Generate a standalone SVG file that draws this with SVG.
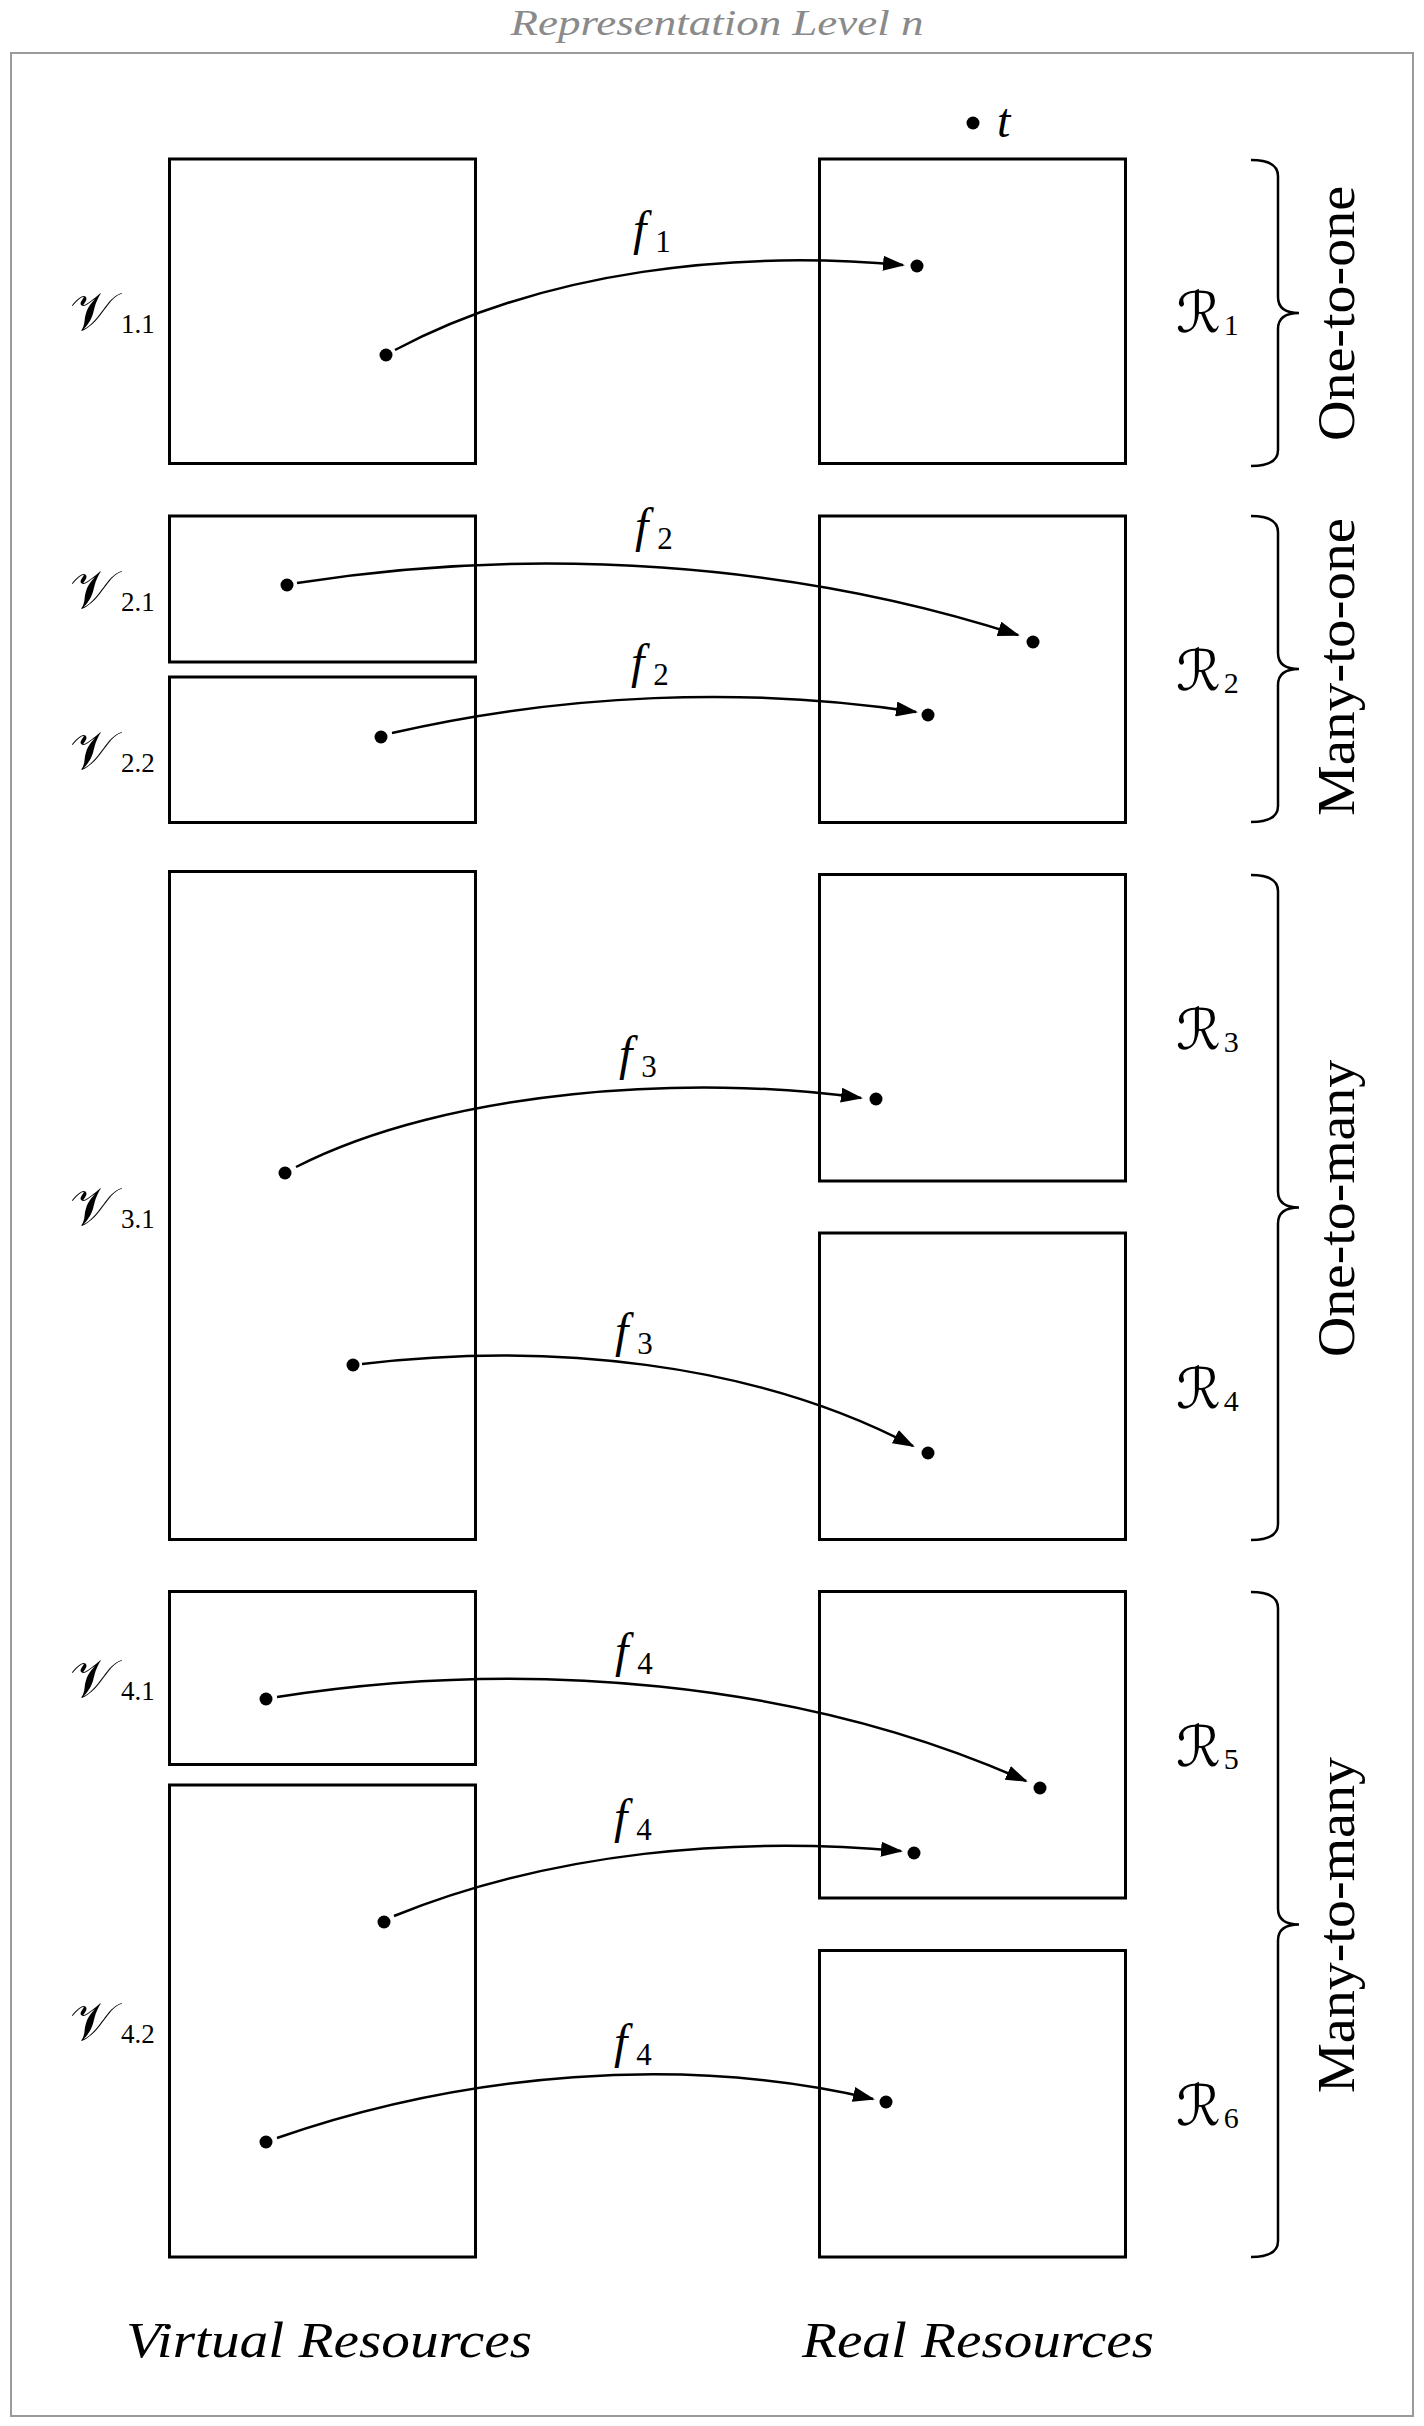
<svg xmlns="http://www.w3.org/2000/svg" width="1424" height="2426" viewBox="0 0 1424 2426">
<defs>
<marker id="arr" viewBox="0 0 22 15" refX="20" refY="7.5" markerWidth="22" markerHeight="15" markerUnits="userSpaceOnUse" orient="auto">
<path d="M0,0 L22,7.5 L0,15 Z" fill="#000"/>
</marker>
</defs>
<style>
.frame{fill:#fff;stroke:#9a9a9a;stroke-width:2}
.box{fill:none;stroke:#000;stroke-width:3}
.conn{fill:none;stroke:#000;stroke-width:2.5;marker-end:url(#arr)}
.dot{fill:#000}
.brace{fill:none;stroke:#000;stroke-width:2.5;stroke-linejoin:miter}
.title{font-family:"Liberation Serif",serif;font-style:italic;font-size:35px;fill:#8a8a8a}
.foot{font-family:"Liberation Serif",serif;font-style:italic;font-size:50px;fill:#000}
.cat{font-family:"Liberation Serif",serif;font-size:52px;fill:#000}
.calv{font-family:"DejaVu Serif","DejaVu Sans",serif;font-size:54px;fill:#000}
.calr{font-family:"DejaVu Serif","DejaVu Sans",serif;font-size:56px;fill:#000}
.vsub{font-family:"Liberation Serif",serif;font-size:27px;font-style:normal}
.rsub{font-family:"Liberation Serif",serif;font-size:30px;font-style:normal}
.fl{font-family:"Liberation Serif",serif;font-style:italic;font-size:48px;fill:#000}
.fsub{font-family:"Liberation Serif",serif;font-size:31px;font-style:normal}
</style>
<rect class="frame" x="11" y="53" width="1402" height="2363"/>
<text class="title" x="717" y="35" text-anchor="middle" textLength="413" lengthAdjust="spacingAndGlyphs">Representation Level n</text>

<g id="t-point">
<circle class="dot" cx="973" cy="123" r="6.5"/>
<text class="fl" x="997" y="137" font-size="42">t</text>
</g>

<g id="V1.1">
<rect class="box" x="169.5" y="159" width="306" height="304.5"/>
<circle class="dot" cx="386" cy="355" r="6.5"/>
<text class="calv" x="70" y="330">𝒱<tspan class="vsub" dx="6" dy="3">1.1</tspan></text>
</g>
<g id="R1">
<rect class="box" x="819.5" y="159" width="306" height="304.5"/>
<circle class="dot" cx="917" cy="266" r="6.5"/>
<text class="calr" x="1176" y="332">ℛ<tspan class="rsub" dx="3" dy="3">1</tspan></text>
</g>

<g id="V2.1">
<rect class="box" x="169.5" y="516" width="306" height="146"/>
<circle class="dot" cx="287" cy="585" r="6.5"/>
<text class="calv" x="70" y="607.5">𝒱<tspan class="vsub" dx="6" dy="3">2.1</tspan></text>
</g>
<g id="V2.2">
<rect class="box" x="169.5" y="677" width="306" height="145.5"/>
<circle class="dot" cx="381" cy="737" r="6.5"/>
<text class="calv" x="70" y="769">𝒱<tspan class="vsub" dx="6" dy="3">2.2</tspan></text>
</g>
<g id="R2">
<rect class="box" x="819.5" y="516" width="306" height="306.5"/>
<circle class="dot" cx="1033" cy="642" r="6.5"/>
<circle class="dot" cx="928" cy="715" r="6.5"/>
<text class="calr" x="1176" y="690">ℛ<tspan class="rsub" dx="3" dy="3">2</tspan></text>
</g>

<g id="V3.1">
<rect class="box" x="169.5" y="871.5" width="306" height="668"/>
<circle class="dot" cx="285" cy="1173" r="6.5"/>
<circle class="dot" cx="353" cy="1365" r="6.5"/>
<text class="calv" x="70" y="1224.5">𝒱<tspan class="vsub" dx="6" dy="3">3.1</tspan></text>
</g>
<g id="R3">
<rect class="box" x="819.5" y="874.5" width="306" height="306.5"/>
<circle class="dot" cx="876" cy="1099" r="6.5"/>
<text class="calr" x="1176" y="1048.5">ℛ<tspan class="rsub" dx="3" dy="3">3</tspan></text>
</g>
<g id="R4">
<rect class="box" x="819.5" y="1233" width="306" height="306.5"/>
<circle class="dot" cx="928" cy="1453" r="6.5"/>
<text class="calr" x="1176" y="1407.5">ℛ<tspan class="rsub" dx="3" dy="3">4</tspan></text>
</g>

<g id="V4.1">
<rect class="box" x="169.5" y="1591.5" width="306" height="173"/>
<circle class="dot" cx="266" cy="1699" r="6.5"/>
<text class="calv" x="70" y="1697">𝒱<tspan class="vsub" dx="6" dy="3">4.1</tspan></text>
</g>
<g id="V4.2">
<rect class="box" x="169.5" y="1785" width="306" height="472"/>
<circle class="dot" cx="384" cy="1922" r="6.5"/>
<circle class="dot" cx="266" cy="2142" r="6.5"/>
<text class="calv" x="70" y="2040">𝒱<tspan class="vsub" dx="6" dy="3">4.2</tspan></text>
</g>
<g id="R5">
<rect class="box" x="819.5" y="1591.5" width="306" height="306.5"/>
<circle class="dot" cx="1040" cy="1788" r="6.5"/>
<circle class="dot" cx="914" cy="1853" r="6.5"/>
<text class="calr" x="1176" y="1765.5">ℛ<tspan class="rsub" dx="3" dy="3">5</tspan></text>
</g>
<g id="R6">
<rect class="box" x="819.5" y="1950.5" width="306" height="306.5"/>
<circle class="dot" cx="886" cy="2102" r="6.5"/>
<text class="calr" x="1176" y="2124.5">ℛ<tspan class="rsub" dx="3" dy="3">6</tspan></text>
</g>

<g id="connectors">
<path class="conn" d="M395,350 C546,270 735,250 903,265"/>
<path class="conn" d="M297,583 C534,545.5 792,562 1018,635"/>
<path class="conn" d="M392,733 C562,694 746,686 916,712"/>
<path class="conn" d="M296,1167 C448,1089 694,1074 861,1098"/>
<path class="conn" d="M362,1364 C545,1342 752,1361 913,1446"/>
<path class="conn" d="M277,1697 C524,1658 800,1680 1026,1781"/>
<path class="conn" d="M394,1916 C552,1852 734,1836 901,1851"/>
<path class="conn" d="M277,2138 C464,2073 682,2054 873,2099"/>
<text class="fl" x="633" y="245">f<tspan class="fsub" dx="9" dy="7">1</tspan></text>
<text class="fl" x="635" y="542">f<tspan class="fsub" dx="9" dy="7">2</tspan></text>
<text class="fl" x="631" y="678">f<tspan class="fsub" dx="9" dy="7">2</tspan></text>
<text class="fl" x="619" y="1070">f<tspan class="fsub" dx="9" dy="7">3</tspan></text>
<text class="fl" x="615" y="1347">f<tspan class="fsub" dx="9" dy="7">3</tspan></text>
<text class="fl" x="615" y="1667">f<tspan class="fsub" dx="9" dy="7">4</tspan></text>
<text class="fl" x="614" y="1833">f<tspan class="fsub" dx="9" dy="7">4</tspan></text>
<text class="fl" x="614" y="2058">f<tspan class="fsub" dx="9" dy="7">4</tspan></text>
</g>

<g id="brace-one-to-one">
<path class="brace" d="M1251,160 Q1278,160 1278,176 L1278,297 Q1278,313 1299,313 Q1278,313 1278,329 L1278,450 Q1278,466 1251,466"/>
<text class="cat" transform="translate(1354,313.5) rotate(-90)" text-anchor="middle" textLength="255" lengthAdjust="spacingAndGlyphs">One-to-one</text>
</g>
<g id="brace-many-to-one">
<path class="brace" d="M1251,516 Q1278,516 1278,532 L1278,653 Q1278,669 1299,669 Q1278,669 1278,685 L1278,806 Q1278,822 1251,822"/>
<text class="cat" transform="translate(1354,667) rotate(-90)" text-anchor="middle" textLength="298" lengthAdjust="spacingAndGlyphs">Many-to-one</text>
</g>
<g id="brace-one-to-many">
<path class="brace" d="M1251,875 Q1278,875 1278,891 L1278,1191.5 Q1278,1207.5 1299,1207.5 Q1278,1207.5 1278,1223.5 L1278,1524 Q1278,1540 1251,1540"/>
<text class="cat" transform="translate(1354,1208.5) rotate(-90)" text-anchor="middle" textLength="297" lengthAdjust="spacingAndGlyphs">One-to-many</text>
</g>
<g id="brace-many-to-many">
<path class="brace" d="M1251,1592 Q1278,1592 1278,1608 L1278,1908.5 Q1278,1924.5 1299,1924.5 Q1278,1924.5 1278,1940.5 L1278,2241 Q1278,2257 1251,2257"/>
<text class="cat" transform="translate(1354,1925) rotate(-90)" text-anchor="middle" textLength="336" lengthAdjust="spacingAndGlyphs">Many-to-many</text>
</g>

<text class="foot" x="126" y="2357" textLength="406" lengthAdjust="spacingAndGlyphs">Virtual Resources</text>
<text class="foot" x="802" y="2357" textLength="352" lengthAdjust="spacingAndGlyphs">Real Resources</text>
</svg>
